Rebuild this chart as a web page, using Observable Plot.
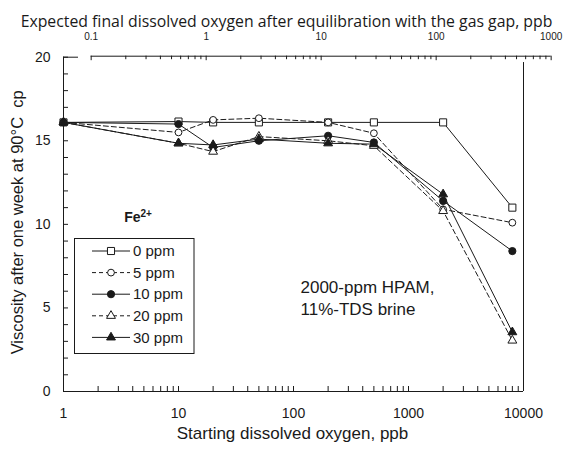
<!DOCTYPE html>
<html>
<head>
<meta charset="utf-8">
<script src="https://cdn.jsdelivr.net/npm/d3@7"></script>
<script src="https://cdn.jsdelivr.net/npm/@observablehq/plot@0.6"></script>
<style>
  html, body { margin: 0; padding: 0; background: #fff; }
</style>
</head>
<body>
<div id="chart"></div>
<script>
// ---------- data ----------
const oxygenPpb = [1, 10, 20, 50, 200, 500, 2000, 8000];
const fe0ppm  = [16.1, 16.15, 16.1, 16.1, 16.1, 16.1, 16.1, 11.0];
const fe5ppm  = [16.1, 15.5, 16.25, 16.35, 16.1, 15.45, 10.9, 10.1];
const fe10ppm = [16.1, 16.0, 14.6, 15.0, 15.3, 14.9, 11.4, 8.4];
const fe20ppm = [16.1, 14.85, 14.35, 15.25, 15.0, 14.7, 10.8, 3.05];
const fe30ppm = [16.1, 14.85, 14.75, 15.1, 14.85, 14.8, 11.8, 3.55];
const seriesNames = ["0 ppm", "5 ppm", "10 ppm", "20 ppm", "30 ppm"];
const seriesValues = [fe0ppm, fe5ppm, fe10ppm, fe20ppm, fe30ppm];

const xTickLabels = [1, 10, 100, 1000, 10000];
const yTickLabels = [0, 5, 10, 15, 20];
const topTickLabels = [0.1, 1, 10, 100, 1000];
const topToBottomFactor = 17.4; // top-axis value v sits where bottom value v*17.4 sits

const titleTop = "Expected final dissolved oxygen after equilibration with the gas gap, ppb";
const titleX = "Starting dissolved oxygen, ppb";
const titleY = "Viscosity after one week at 90°C  cp";
const note1 = "2000-ppm HPAM,";
const note2 = "11%-TDS brine";
const legendTitle = "Fe";
const legendTitleSup = "2+";

// ---------- styles ----------
const ink = "#1a1a1a";
const seriesStyle = {
  "0 ppm":  {symbol: "square",   fill: "white", dash: null, r: 4},
  "5 ppm":  {symbol: "circle",   fill: "white", dash: "5,3", r: 3.4},
  "10 ppm": {symbol: "circle",   fill: ink,     dash: null, r: 3.6},
  "20 ppm": {symbol: "triangle", fill: "white", dash: "5,3", r: 3.3},
  "30 ppm": {symbol: "triangle", fill: ink,     dash: null, r: 3.3}
};

const rows = seriesNames.flatMap((s, j) =>
  oxygenPpb.map((x, i) => ({series: s, x, y: seriesValues[j][i]})));

// tick positions
const xMinor = [];
for (let d = 1; d < 10000; d *= 10) for (let m = 2; m <= 9; m++) xMinor.push(d * m);
const topMinor = [];
for (let d = 0.1; d < 999; d *= 10) for (let m = 2; m <= 9; m++) topMinor.push(+(d * m).toPrecision(3));
const yTicksAll = d3.range(0, 21, 1);

const pxPerY = (391 - 56.7) / 20;
const tickY = v => v / pxPerY;           // pixel length -> y units
const tickXFactor = px => Math.pow(10, px / 115); // pixel length -> x factor

const lineMarks = seriesNames.map(s => {
  const st = seriesStyle[s];
  const data = rows.filter(d => d.series === s);
  return Plot.line(data, {x: "x", y: "y", stroke: ink, strokeWidth: 1, strokeDasharray: st.dash ?? undefined});
});
const dotMarks = seriesNames.map(s => {
  const st = seriesStyle[s];
  const data = rows.filter(d => d.series === s);
  return Plot.dot(data, {x: "x", y: "y", symbol: st.symbol, r: st.r, fill: st.fill, stroke: ink, strokeWidth: 1});
});

const plot = Plot.plot({
  width: 563,
  height: 459,
  marginLeft: 63,
  marginRight: 40,
  marginTop: 56.7,
  marginBottom: 68,
  style: {fontFamily: "'Liberation Sans', Arial, sans-serif", fontSize: "14px", background: "white", color: ink, overflow: "visible"},
  x: {type: "log", domain: [1, 10000], axis: null},
  y: {domain: [0, 20], axis: null},
  marks: [
    // frame / axes lines
    Plot.ruleX([1], {y1: 0, y2: 20, stroke: ink}),
    Plot.ruleY([0], {x1: 1, x2: 10000, stroke: ink}),
    Plot.ruleX([10000], {y1: 0, y2: 19.68, stroke: ink}),
    Plot.ruleY([20], {x1: 1, x2: 1.35, stroke: ink}),
    // bottom ticks (inward)
    Plot.ruleX(xTickLabels.concat(xMinor), {x: d => d, y1: 0, y2: tickY(5), stroke: ink}),
    // left ticks (inward)
    Plot.ruleY(yTicksAll, {y: d => d, x1: 1, x2: tickXFactor(5), stroke: ink}),
    // top secondary axis
    Plot.ruleY([20], {x1: topTickLabels[0] * topToBottomFactor, x2: topTickLabels[topTickLabels.length - 1] * topToBottomFactor, dy: -1, stroke: ink}),
    Plot.ruleX(topTickLabels, {x: d => d * topToBottomFactor, y1: 20, y2: 20 - tickY(4.5), dy: -1, stroke: ink}),
    Plot.ruleX(topMinor, {x: d => d * topToBottomFactor, y1: 20, y2: 20 - tickY(3.5), dy: -1, stroke: ink}),
    // tick labels
    Plot.text(xTickLabels, {x: d => d, y: 0, dy: 22.5, text: d => String(d), fontSize: 14, fill: ink}),
    Plot.text(yTickLabels, {x: 1, y: d => d, dx: -13, textAnchor: "end", text: d => String(d), fontSize: 14, fill: ink}),
    Plot.text(topTickLabels, {x: d => d * topToBottomFactor, y: 20, dy: -20, text: d => String(d), fontSize: 10, fill: ink}),
    // titles
    Plot.text([titleTop], {frameAnchor: "top", textAnchor: "middle", dx: -7, dy: -41, fontSize: 14, fontFamily: "'Open Sans', sans-serif", fill: ink}),
    Plot.text([titleX], {frameAnchor: "bottom", textAnchor: "middle", dx: -1, dy: 47, fontSize: 17, fill: ink}),
    Plot.text([titleY], {frameAnchor: "left", textAnchor: "middle", dx: -46, dy: -2, rotate: -90, fontSize: 16.5, fill: ink}),
    Plot.text([note1], {frameAnchor: "top-left", dx: 237, dy: 223.3, textAnchor: "start", fontSize: 17, fill: ink}),
    Plot.text([note2], {frameAnchor: "top-left", dx: 237, dy: 246, textAnchor: "start", fontSize: 17, fill: ink}),
    // series
    ...lineMarks,
    ...dotMarks
  ]
});

document.getElementById("chart").appendChild(plot);

// fit top title width to reference (~532 px)
const svg = d3.select(plot);
svg.selectAll("text").filter(function() { return this.textContent === titleTop; }).each(function() {
  const w = this.getComputedTextLength();
  if (w > 0) {
    const fs = 14 * 532 / w;
    d3.select(this).attr("font-size", fs.toFixed(2));
  }
});

// ---------- legend ----------
const lg = svg.append("g").attr("font-family", "'Liberation Sans', Arial, sans-serif");
lg.append("rect").attr("x", 74.5).attr("y", 238.5).attr("width", 119.5).attr("height", 115)
  .attr("fill", "white").attr("stroke", ink).attr("stroke-width", 1);
const lt = lg.append("text").attr("x", 138).attr("y", 222).attr("text-anchor", "middle")
  .attr("font-size", 14).attr("font-weight", "bold").attr("fill", ink);
lt.append("tspan").text(legendTitle);
lt.append("tspan").attr("dy", -5).attr("font-size", 10).text(legendTitleSup);

const symbolType = {square: d3.symbolSquare, circle: d3.symbolCircle, triangle: d3.symbolTriangle};
seriesNames.forEach((s, i) => {
  const st = seriesStyle[s];
  const y = 251 + i * 21.6;
  lg.append("line").attr("x1", 92).attr("x2", 130).attr("y1", y).attr("y2", y)
    .attr("stroke", ink).attr("stroke-width", 1).attr("stroke-dasharray", st.dash ? "4,3" : null);
  lg.append("path").attr("transform", `translate(111,${y})`)
    .attr("d", d3.symbol(symbolType[st.symbol], st.r * st.r * Math.PI)())
    .attr("fill", st.fill).attr("stroke", ink).attr("stroke-width", 1);
  lg.append("text").attr("x", 133).attr("y", y).attr("dy", "0.35em").attr("font-size", 15)
    .attr("text-anchor", "start").attr("fill", ink).text(s);
});
</script>
</body>
</html>
